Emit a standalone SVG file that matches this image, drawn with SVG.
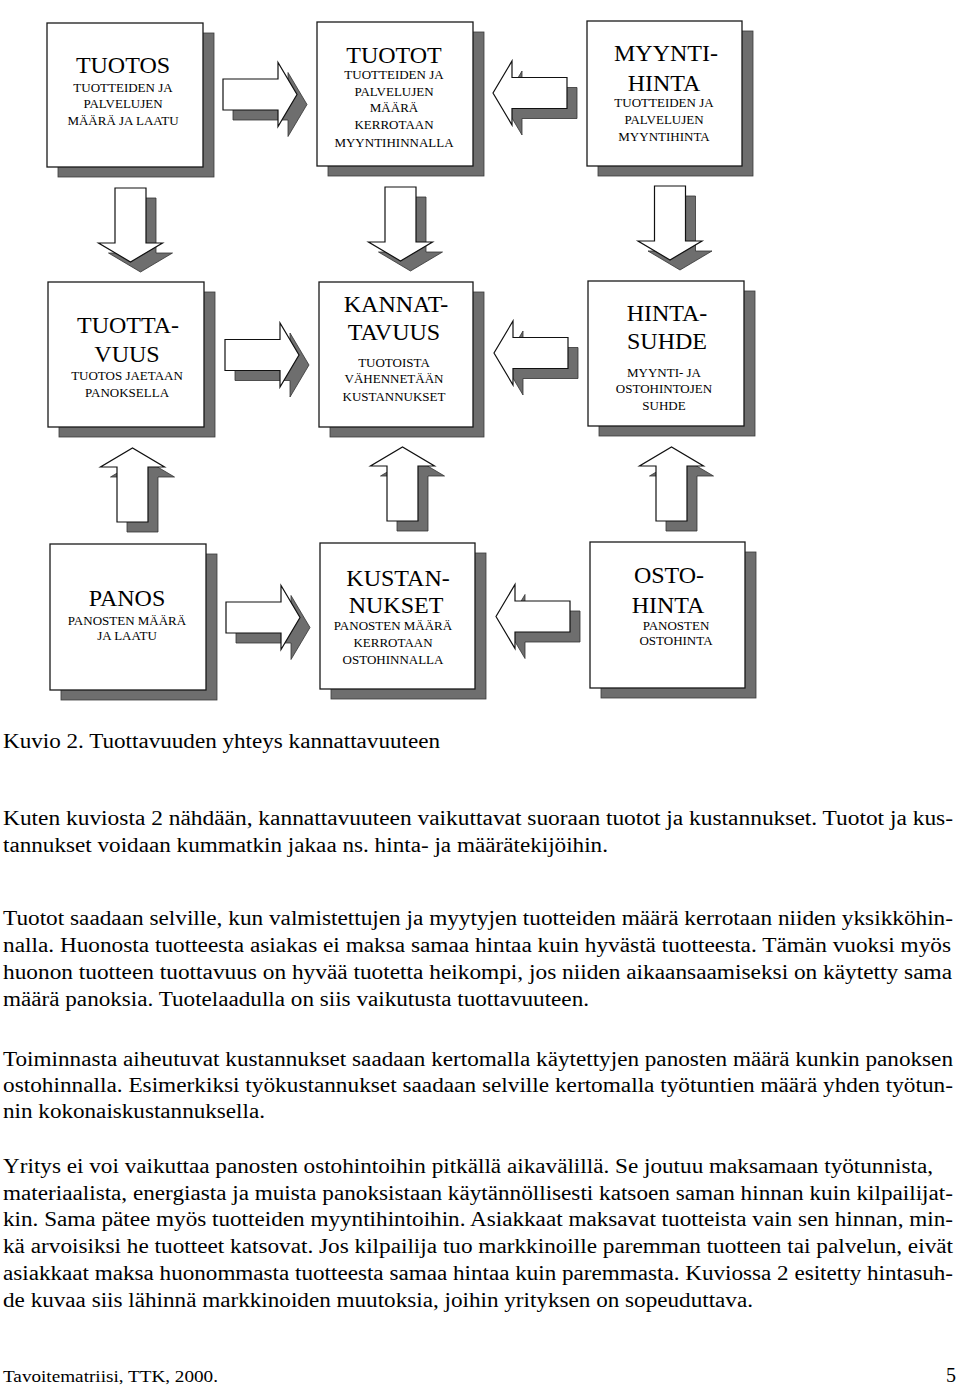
<svg xmlns="http://www.w3.org/2000/svg" xmlns:xlink="http://www.w3.org/1999/xlink" width="960" height="1386" viewBox="0 0 960 1386">
<style>
.bg{fill:#fff}
.box{fill:#fff;stroke:#1a1a1a;stroke-width:1.3}
.shadow{fill:#6e6e6e;stroke:#3a3a3a;stroke-width:0.8}
.aw{fill:#fff;stroke:#111;stroke-width:1.2}
.as{fill:#6e6e6e;stroke:#333;stroke-width:0.8}
.t{font-family:"Liberation Serif","Times New Roman",serif;font-size:24px;text-anchor:middle;fill:#000}
.s{font-size:13px}
.body{font-family:"Liberation Serif","Times New Roman",serif;font-size:20px;fill:#000}
</style>
<defs>
<path id="arr" d="M0,-15.5 H55 V-32 L74,0 L55,32 V15.5 H0 Z"/>
</defs>
<rect class="bg" x="0" y="0" width="960" height="1386"/>

<g id="connectors">
  <use xlink:href="#arr" class="as" transform="translate(233,104.5)"/>
  <use xlink:href="#arr" class="aw" transform="translate(223,94.5)"/>
  <use xlink:href="#arr" class="as" transform="translate(235,365)"/>
  <use xlink:href="#arr" class="aw" transform="translate(225,355)"/>
  <use xlink:href="#arr" class="as" transform="translate(236,627.5)"/>
  <use xlink:href="#arr" class="aw" transform="translate(226,617.5)"/>
  <use xlink:href="#arr" class="as" transform="translate(577,103) scale(-1,1)"/>
  <use xlink:href="#arr" class="aw" transform="translate(567,93) scale(-1,1)"/>
  <use xlink:href="#arr" class="as" transform="translate(578,363) scale(-1,1)"/>
  <use xlink:href="#arr" class="aw" transform="translate(568,353) scale(-1,1)"/>
  <use xlink:href="#arr" class="as" transform="translate(580,626.5) scale(-1,1)"/>
  <use xlink:href="#arr" class="aw" transform="translate(570,616.5) scale(-1,1)"/>
  <use xlink:href="#arr" class="as" transform="translate(140.5,198) rotate(90)"/>
  <use xlink:href="#arr" class="aw" transform="translate(130.5,188) rotate(90)"/>
  <use xlink:href="#arr" class="as" transform="translate(410.5,197) rotate(90)"/>
  <use xlink:href="#arr" class="aw" transform="translate(400.5,187) rotate(90)"/>
  <use xlink:href="#arr" class="as" transform="translate(680,196) rotate(90)"/>
  <use xlink:href="#arr" class="aw" transform="translate(670,186) rotate(90)"/>
  <use xlink:href="#arr" class="as" transform="translate(142.5,532) rotate(-90)"/>
  <use xlink:href="#arr" class="aw" transform="translate(132.5,522) rotate(-90)"/>
  <use xlink:href="#arr" class="as" transform="translate(412.5,531) rotate(-90)"/>
  <use xlink:href="#arr" class="aw" transform="translate(402.5,521) rotate(-90)"/>
  <use xlink:href="#arr" class="as" transform="translate(681.5,531) rotate(-90)"/>
  <use xlink:href="#arr" class="aw" transform="translate(671.5,521) rotate(-90)"/>
</g>

<g id="tuotos">
  <rect class="shadow" x="58" y="33" width="156" height="144"/>
  <rect class="box" x="47" y="23" width="156" height="144"/>
  <text class="t" x="123" y="73">TUOTOS</text>
  <text class="t s" x="123" y="92">TUOTTEIDEN JA</text>
  <text class="t s" x="123" y="108">PALVELUJEN</text>
  <text class="t s" x="123" y="125">MÄÄRÄ JA LAATU</text>
</g>

<g id="tuotot">
  <rect class="shadow" x="328" y="32" width="156" height="144"/>
  <rect class="box" x="317" y="22" width="156" height="144"/>
  <text class="t" x="394" y="63">TUOTOT</text>
  <text class="t s" x="394" y="79">TUOTTEIDEN JA</text>
  <text class="t s" x="394" y="96">PALVELUJEN</text>
  <text class="t s" x="394" y="112">MÄÄRÄ</text>
  <text class="t s" x="394" y="129">KERROTAAN</text>
  <text class="t s" x="394" y="147">MYYNTIHINNALLA</text>
</g>

<g id="myyntihinta">
  <rect class="shadow" x="598" y="31" width="155" height="145"/>
  <rect class="box" x="587" y="21" width="155" height="145"/>
  <text class="t" x="666" y="61">MYYNTI-</text>
  <text class="t" x="664" y="91">HINTA</text>
  <text class="t s" x="664" y="107">TUOTTEIDEN JA</text>
  <text class="t s" x="664" y="124">PALVELUJEN</text>
  <text class="t s" x="664" y="141">MYYNTIHINTA</text>
</g>

<g id="tuottavuus">
  <rect class="shadow" x="59" y="292" width="156" height="145"/>
  <rect class="box" x="48" y="282" width="156" height="145"/>
  <text class="t" x="128" y="333">TUOTTA-</text>
  <text class="t" x="127" y="362">VUUS</text>
  <text class="t s" x="127" y="380">TUOTOS JAETAAN</text>
  <text class="t s" x="127" y="397">PANOKSELLA</text>
</g>

<g id="kannattavuus">
  <rect class="shadow" x="330" y="292" width="154" height="145"/>
  <rect class="box" x="319" y="282" width="154" height="145"/>
  <text class="t" x="396" y="312">KANNAT-</text>
  <text class="t" x="394" y="340">TAVUUS</text>
  <text class="t s" x="394" y="367">TUOTOISTA</text>
  <text class="t s" x="394" y="383">VÄHENNETÄÄN</text>
  <text class="t s" x="394" y="401">KUSTANNUKSET</text>
</g>

<g id="hintasuhde">
  <rect class="shadow" x="599" y="291" width="156" height="145"/>
  <rect class="box" x="588" y="281" width="156" height="145"/>
  <text class="t" x="667" y="321">HINTA-</text>
  <text class="t" x="667" y="349">SUHDE</text>
  <text class="t s" x="664" y="377">MYYNTI- JA</text>
  <text class="t s" x="664" y="393">OSTOHINTOJEN</text>
  <text class="t s" x="664" y="410">SUHDE</text>
</g>

<g id="panos">
  <rect class="shadow" x="61" y="554" width="156" height="146"/>
  <rect class="box" x="50" y="544" width="156" height="146"/>
  <text class="t" x="127" y="606">PANOS</text>
  <text class="t s" x="127" y="625">PANOSTEN MÄÄRÄ</text>
  <text class="t s" x="127" y="640">JA LAATU</text>
</g>

<g id="kustannukset">
  <rect class="shadow" x="331" y="553" width="155" height="146"/>
  <rect class="box" x="320" y="543" width="155" height="146"/>
  <text class="t" x="398" y="586">KUSTAN-</text>
  <text class="t" x="396" y="613">NUKSET</text>
  <text class="t s" x="393" y="630">PANOSTEN MÄÄRÄ</text>
  <text class="t s" x="393" y="647">KERROTAAN</text>
  <text class="t s" x="393" y="664">OSTOHINNALLA</text>
</g>

<g id="ostohinta">
  <rect class="shadow" x="601" y="552" width="155" height="146"/>
  <rect class="box" x="590" y="542" width="155" height="146"/>
  <text class="t" x="669" y="583">OSTO-</text>
  <text class="t" x="668" y="613">HINTA</text>
  <text class="t s" x="676" y="630">PANOSTEN</text>
  <text class="t s" x="676" y="645">OSTOHINTA</text>
</g>

<g id="body-text" class="body">
  <text x="3" y="748" textLength="437" lengthAdjust="spacingAndGlyphs">Kuvio 2. Tuottavuuden yhteys kannattavuuteen</text>
  <text x="3" y="825" textLength="950" lengthAdjust="spacingAndGlyphs">Kuten kuviosta 2 nähdään, kannattavuuteen vaikuttavat suoraan tuotot ja kustannukset. Tuotot ja kus-</text>
  <text x="3" y="852" textLength="605" lengthAdjust="spacingAndGlyphs">tannukset voidaan kummatkin jakaa ns. hinta- ja määrätekijöihin.</text>
  <text x="3" y="925" textLength="950" lengthAdjust="spacingAndGlyphs">Tuotot saadaan selville, kun valmistettujen ja myytyjen tuotteiden määrä kerrotaan niiden yksikköhin-</text>
  <text x="3" y="952" textLength="948" lengthAdjust="spacingAndGlyphs">nalla. Huonosta tuotteesta asiakas ei maksa samaa hintaa kuin hyvästä tuotteesta. Tämän vuoksi myös</text>
  <text x="3" y="979" textLength="949" lengthAdjust="spacingAndGlyphs">huonon tuotteen tuottavuus on hyvää tuotetta heikompi, jos niiden aikaansaamiseksi on käytetty sama</text>
  <text x="3" y="1006" textLength="586" lengthAdjust="spacingAndGlyphs">määrä panoksia. Tuotelaadulla on siis vaikutusta tuottavuuteen.</text>
  <text x="3" y="1066" textLength="950" lengthAdjust="spacingAndGlyphs">Toiminnasta aiheutuvat kustannukset saadaan kertomalla käytettyjen panosten määrä kunkin panoksen</text>
  <text x="3" y="1092" textLength="950" lengthAdjust="spacingAndGlyphs">ostohinnalla. Esimerkiksi työkustannukset saadaan selville kertomalla työtuntien määrä yhden työtun-</text>
  <text x="3" y="1118" textLength="262" lengthAdjust="spacingAndGlyphs">nin kokonaiskustannuksella.</text>
  <text x="3" y="1173" textLength="930" lengthAdjust="spacingAndGlyphs">Yritys ei voi vaikuttaa panosten ostohintoihin pitkällä aikavälillä. Se joutuu maksamaan työtunnista,</text>
  <text x="3" y="1200" textLength="950" lengthAdjust="spacingAndGlyphs">materiaalista, energiasta ja muista panoksistaan käytännöllisesti katsoen saman hinnan kuin kilpailijat-</text>
  <text x="3" y="1226" textLength="950" lengthAdjust="spacingAndGlyphs">kin. Sama pätee myös tuotteiden myyntihintoihin. Asiakkaat maksavat tuotteista vain sen hinnan, min-</text>
  <text x="3" y="1253" textLength="950" lengthAdjust="spacingAndGlyphs">kä arvoisiksi he tuotteet katsovat. Jos kilpailija tuo markkinoille paremman tuotteen tai palvelun, eivät</text>
  <text x="3" y="1280" textLength="950" lengthAdjust="spacingAndGlyphs">asiakkaat maksa huonommasta tuotteesta samaa hintaa kuin paremmasta. Kuviossa 2 esitetty hintasuh-</text>
  <text x="3" y="1307" textLength="750" lengthAdjust="spacingAndGlyphs">de kuvaa siis lähinnä markkinoiden muutoksia, joihin yrityksen on sopeuduttava.</text>
  <text x="3" y="1382" style="font-size:17px" textLength="215" lengthAdjust="spacingAndGlyphs">Tavoitematriisi, TTK, 2000.</text>
  <text x="946" y="1382" style="font-size:20px">5</text>
</g>
</svg>
